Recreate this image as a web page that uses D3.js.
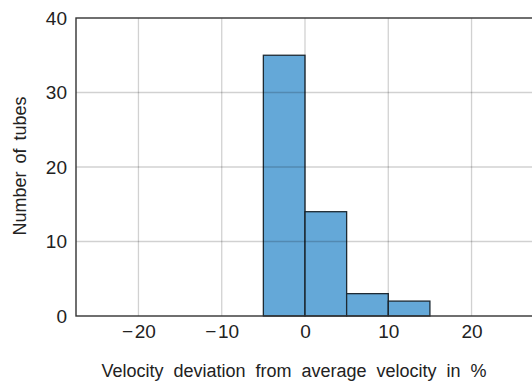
<!DOCTYPE html>
<html>
<head>
<meta charset="utf-8">
<script src="https://cdn.jsdelivr.net/npm/d3@7"></script>
<style>
  body { margin: 0; background: #fff; }
  text { font-family: "Liberation Sans", Arial, sans-serif; fill: #222; }
</style>
</head>
<body>
<svg id="chart" width="532" height="381"></svg>
<script>
// histogram bins (percent deviation) and tube counts
var binStarts = [-5, 0, 5, 10]
var binWidth = 5
var counts = [35, 14, 3, 2]
var xTicks = [-20, -10, 0, 10, 20]
var yTicks = [0, 10, 20, 30, 40]

var svg = d3.select("#chart"),
    margin = {left: 76, top: 18, right: -2, bottom: 65},
    W = 532, H = 381

var x = d3.scaleLinear().domain([-27.5, 27.5]).range([margin.left, W - margin.right])
var y = d3.scaleLinear().domain([0, 40]).range([H - margin.bottom, margin.top])

// bars
svg.append("g").selectAll("rect")
  .data(binStarts)
  .enter().append("rect")
    .attr("x", function(d){ return x(d) })
    .attr("y", function(d,i){ return y(counts[i]) })
    .attr("width", function(d){ return x(d + binWidth) - x(d) })
    .attr("height", function(d,i){ return y(0) - y(counts[i]) })
    .attr("fill", "#64a8d8")
    .attr("stroke", "#1e2a33")
    .attr("stroke-width", 1.3)

// grid on top of bars
var grid = svg.append("g").attr("stroke", "#000").attr("stroke-opacity", 0.18).attr("stroke-width", 1.3)
grid.selectAll("line.gx").data(xTicks).enter().append("line")
  .attr("x1", function(d){ return x(d) }).attr("x2", function(d){ return x(d) })
  .attr("y1", y(0)).attr("y2", y(40))
grid.selectAll("line.gy").data(yTicks.slice(1, -1)).enter().append("line")
  .attr("x1", x.range()[0]).attr("x2", x.range()[1])
  .attr("y1", function(d){ return y(d) }).attr("y2", function(d){ return y(d) })

// frame
var frame = svg.append("g").attr("stroke", "#333").attr("stroke-width", 1.4).attr("fill", "none")
frame.append("rect")
  .attr("x", x.range()[0]).attr("y", y(40))
  .attr("width", x.range()[1] - x.range()[0]).attr("height", y(0) - y(40))

// axes (labels only)
var xAxis = svg.append("g")
  .attr("transform", "translate(0," + y(0) + ")")
  .call(d3.axisBottom(x).tickValues(xTicks).tickSize(0).tickPadding(9)
    .tickFormat(function(d){ return d < 0 ? "\u2212\u200A" + Math.abs(d) : d }))
xAxis.select(".domain").remove()
xAxis.selectAll("text").attr("font-size", 19).attr("fill", "#222")

var yAxis = svg.append("g")
  .attr("transform", "translate(" + x.range()[0] + ",0)")
  .call(d3.axisLeft(y).tickValues(yTicks).tickSize(0).tickPadding(9))
yAxis.select(".domain").remove()
yAxis.selectAll("text").attr("font-size", 19).attr("fill", "#222")

svg.append("text")
  .attr("x", 294).attr("y", 376.5)
  .attr("text-anchor", "middle")
  .attr("font-size", 18)
  .attr("word-spacing", 5)
  .text("Velocity deviation from average velocity in %")

svg.append("text")
  .attr("transform", "translate(25.5,166) rotate(-90)")
  .attr("text-anchor", "middle")
  .attr("font-size", 18)
  .attr("word-spacing", 3)
  .text("Number of tubes")
</script>
</body>
</html>
